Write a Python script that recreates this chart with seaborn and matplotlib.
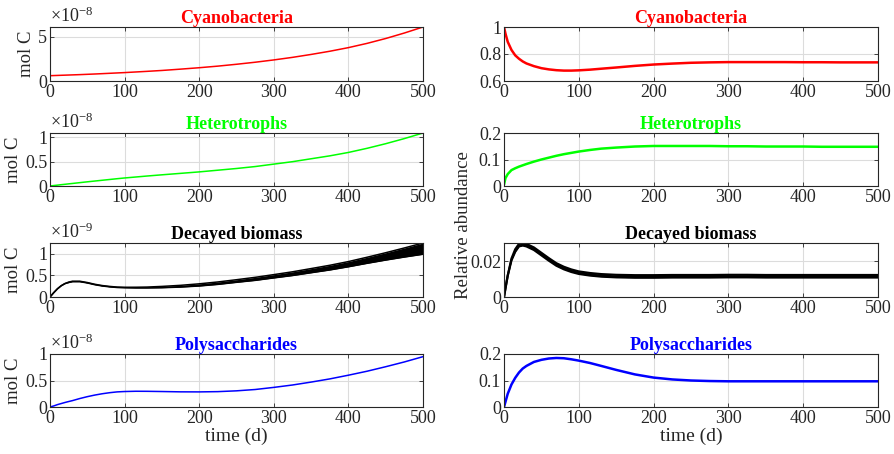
import numpy as np
import pandas as pd
import matplotlib
matplotlib.use("Agg")
import matplotlib.pyplot as plt
import matplotlib.ticker as mticker
import seaborn as sns

# Simulation output sampled in time (days)
time_d = [0, 2, 5, 10, 15, 20, 25, 30, 40, 50, 60, 70, 80, 90, 100, 115, 130,
          150, 175, 200, 225, 250, 275, 300, 325, 350, 375, 400, 425, 450, 475, 500]

# Absolute carbon pools (mol C)
cyano_mol = [0.60e-8, 0.605e-8, 0.615e-8, 0.63e-8, 0.645e-8, 0.66e-8, 0.675e-8, 0.69e-8,
             0.72e-8, 0.755e-8, 0.79e-8, 0.83e-8, 0.87e-8, 0.91e-8, 0.95e-8, 1.02e-8,
             1.09e-8, 1.19e-8, 1.34e-8, 1.50e-8, 1.68e-8, 1.89e-8, 2.12e-8, 2.38e-8,
             2.67e-8, 3.00e-8, 3.36e-8, 3.77e-8, 4.25e-8, 4.80e-8, 5.42e-8, 6.10e-8]
hetero_mol = [0.0, 0.004e-8, 0.009e-8, 0.018e-8, 0.027e-8, 0.035e-8, 0.044e-8, 0.052e-8,
              0.069e-8, 0.086e-8, 0.102e-8, 0.118e-8, 0.134e-8, 0.150e-8, 0.165e-8,
              0.185e-8, 0.205e-8, 0.230e-8, 0.260e-8, 0.290e-8, 0.325e-8, 0.360e-8,
              0.400e-8, 0.450e-8, 0.500e-8, 0.560e-8, 0.620e-8, 0.690e-8, 0.775e-8,
              0.870e-8, 0.975e-8, 1.090e-8]
decay_mol_lo = [0.0, 0.04e-9, 0.10e-9, 0.19e-9, 0.26e-9, 0.31e-9, 0.335e-9, 0.355e-9,
                0.355e-9, 0.325e-9, 0.285e-9, 0.255e-9, 0.235e-9, 0.22e-9, 0.215e-9,
                0.21e-9, 0.21e-9, 0.215e-9, 0.23e-9, 0.255e-9, 0.292e-9, 0.34e-9,
                0.385e-9, 0.442e-9, 0.497e-9, 0.562e-9, 0.626e-9, 0.70e-9, 0.78e-9,
                0.855e-9, 0.925e-9, 0.99e-9]
decay_mol_hi = [0.0, 0.04e-9, 0.10e-9, 0.19e-9, 0.26e-9, 0.31e-9, 0.345e-9, 0.365e-9,
                0.365e-9, 0.335e-9, 0.295e-9, 0.265e-9, 0.245e-9, 0.23e-9, 0.225e-9,
                0.226e-9, 0.23e-9, 0.245e-9, 0.27e-9, 0.305e-9, 0.348e-9, 0.40e-9,
                0.455e-9, 0.518e-9, 0.583e-9, 0.658e-9, 0.734e-9, 0.82e-9, 0.92e-9,
                1.025e-9, 1.135e-9, 1.25e-9]
poly_mol = [0.0, 0.008e-8, 0.02e-8, 0.045e-8, 0.065e-8, 0.085e-8, 0.103e-8, 0.12e-8,
            0.16e-8, 0.195e-8, 0.225e-8, 0.25e-8, 0.27e-8, 0.285e-8, 0.292e-8,
            0.297e-8, 0.296e-8, 0.292e-8, 0.286e-8, 0.285e-8, 0.29e-8, 0.305e-8,
            0.33e-8, 0.37e-8, 0.415e-8, 0.47e-8, 0.53e-8, 0.60e-8, 0.675e-8,
            0.76e-8, 0.85e-8, 0.95e-8]

# Relative abundances
cyano_rel = [1.00, 0.95, 0.89, 0.83, 0.79, 0.765, 0.745, 0.73, 0.71, 0.695, 0.686,
             0.68, 0.677, 0.677, 0.679, 0.684, 0.691, 0.70, 0.712, 0.722, 0.729,
             0.735, 0.738, 0.74, 0.74, 0.74, 0.74, 0.739, 0.739, 0.738, 0.738, 0.738]
hetero_rel = [0.005, 0.03, 0.045, 0.06, 0.067, 0.073, 0.078, 0.083, 0.092, 0.10,
              0.107, 0.114, 0.12, 0.125, 0.13, 0.136, 0.141, 0.145, 0.149, 0.151,
              0.151, 0.151, 0.151, 0.15, 0.15, 0.149, 0.149, 0.149, 0.148, 0.148,
              0.148, 0.148]
decay_rel_lo = [0.0, 0.005, 0.012, 0.0205, 0.0253, 0.0283, 0.0288, 0.0283, 0.0263,
                0.0233, 0.0203, 0.0175, 0.0155, 0.0140, 0.0129, 0.0120, 0.0114,
                0.0110, 0.0108, 0.0108, 0.0109, 0.0109, 0.0109, 0.011, 0.011,
                0.0109, 0.0109, 0.0109, 0.0109, 0.0109, 0.0109, 0.0109]
decay_rel_hi = [0.0, 0.005, 0.012, 0.0215, 0.0267, 0.0297, 0.0302, 0.0297, 0.0277,
                0.0247, 0.0217, 0.0189, 0.0169, 0.0154, 0.0143, 0.0134, 0.0128,
                0.0124, 0.0122, 0.0122, 0.0123, 0.0123, 0.0123, 0.0124, 0.0124,
                0.0123, 0.0123, 0.0123, 0.0123, 0.0123, 0.0123, 0.0123]
poly_rel = [0.0, 0.02, 0.05, 0.085, 0.11, 0.13, 0.145, 0.155, 0.17, 0.178, 0.183,
            0.185, 0.184, 0.18, 0.175, 0.166, 0.155, 0.14, 0.123, 0.111, 0.104,
            0.10, 0.098, 0.097, 0.097, 0.097, 0.097, 0.097, 0.097, 0.097, 0.097, 0.097]

titles = ["Cyanobacteria", "Heterotrophs", "Decayed biomass", "Polysaccharides"]
colors = ["#ff0000", "#00ff00", "#000000", "#0000ff"]
x_ticks = [0, 100, 200, 300, 400, 500]

sns.set_style("ticks")
plt.rcParams["font.family"] = ["Liberation Serif", "DejaVu Serif"]
plt.rcParams["mathtext.fontset"] = "custom"
plt.rcParams["mathtext.rm"] = "Liberation Serif"
plt.rcParams["mathtext.it"] = "Liberation Serif:italic"
plt.rcParams["axes.unicode_minus"] = False

fig = plt.figure(figsize=(8.94, 4.54), dpi=100)

# panel rectangles in pixels: (top, bottom) per row, (left, right) per column
rows_px = [(27, 81), (133, 186), (243, 297), (354, 407)]
cols_px = [(50, 423), (504, 878)]
W, H = 894, 454
INK = "#262626"


def make_ax(r, c):
    top, bot = rows_px[r]
    left, right = cols_px[c]
    return fig.add_axes([left / W, 1 - bot / H, (right - left) / W, (bot - top) / H])


def style_ax(ax, title, color):
    ax.set_xlim(0, 500)
    ax.set_xticks(x_ticks)
    ax.grid(True, color="#dcdcdc", lw=0.8)
    ax.set_axisbelow(True)
    for s in ax.spines.values():
        s.set_color(INK)
        s.set_linewidth(0.8)
    ax.tick_params(direction="in", top=True, right=True, length=3, width=0.6,
                   labelsize=13, colors=INK, pad=2)
    ax.set_title(title, color=color, fontweight="bold", fontsize=13, pad=3)
    ax.set_xlabel("")
    ax.set_ylabel("")


abs_series = [cyano_mol, hetero_mol, None, poly_mol]
abs_exp = [-8, -8, -9, -8]
abs_ticks = [[0, 5e-8], [0, 0.5e-8, 1e-8], [0, 0.5e-9, 1e-9], [0, 0.5e-8, 1e-8]]
abs_ylim = [(0, max(cyano_mol)), (0, max(hetero_mol)), (0, max(decay_mol_hi)), (0, 1e-8)]

rel_series = [cyano_rel, hetero_rel, None, poly_rel]
rel_ticks = [[0.6, 0.8, 1.0], [0, 0.1, 0.2], [0, 0.02], [0, 0.1, 0.2]]
rel_ylim = [(0.6, 1.0), (0, 0.2), (0, max(decay_rel_hi)), (0, 0.2)]

for r in range(4):
    # left column: absolute carbon
    ax = make_ax(r, 0)
    if abs_series[r] is not None:
        df = pd.DataFrame({"t": time_d, "v": abs_series[r]})
        sns.lineplot(data=df, x="t", y="v", ax=ax, color=colors[r], lw=1.1)
    else:
        df = pd.DataFrame({"t": time_d, "lo": decay_mol_lo, "hi": decay_mol_hi})
        ax.fill_between(df["t"], df["lo"], df["hi"], color=colors[r], lw=0)
        sns.lineplot(data=df, x="t", y="lo", ax=ax, color=colors[r], lw=1.1)
        sns.lineplot(data=df, x="t", y="hi", ax=ax, color=colors[r], lw=1.1)
    ax.set_ylim(*abs_ylim[r])
    ax.set_yticks(abs_ticks[r])
    scale = 10.0 ** abs_exp[r]
    ax.yaxis.set_major_formatter(
        mticker.FuncFormatter(lambda v, p, s=scale: f"{round(v / s, 6):g}"))
    style_ax(ax, titles[r], colors[r])
    ax.text(0.0, 1.015, r"$\times$10$^{%d}$" % abs_exp[r], transform=ax.transAxes,
            ha="left", va="bottom", fontsize=13, color=INK)
    ax.set_ylabel("mol C", fontsize=13.5, labelpad=2)
    if r == 3:
        ax.set_xlabel("time (d)", fontsize=14, labelpad=1)

    # right column: relative abundance
    ax = make_ax(r, 1)
    if rel_series[r] is not None:
        df = pd.DataFrame({"t": time_d, "v": rel_series[r]})
        sns.lineplot(data=df, x="t", y="v", ax=ax, color=colors[r], lw=1.8)
    else:
        df = pd.DataFrame({"t": time_d, "lo": decay_rel_lo, "hi": decay_rel_hi})
        ax.fill_between(df["t"], df["lo"], df["hi"], color=colors[r], lw=0)
        sns.lineplot(data=df, x="t", y="lo", ax=ax, color=colors[r], lw=1.6)
        sns.lineplot(data=df, x="t", y="hi", ax=ax, color=colors[r], lw=1.6)
    ax.set_ylim(*rel_ylim[r])
    ax.set_yticks(rel_ticks[r])
    ax.yaxis.set_major_formatter(mticker.FuncFormatter(lambda v, p: f"{round(v, 6):g}"))
    style_ax(ax, titles[r], colors[r])
    if r == 3:
        ax.set_xlabel("time (d)", fontsize=14, labelpad=1)

fig.text(463 / W, 1 - 225 / H, "Relative abundance", rotation=90, fontsize=13.5,
         ha="center", va="center", color=INK)

fig.savefig("out.png", dpi=100)
